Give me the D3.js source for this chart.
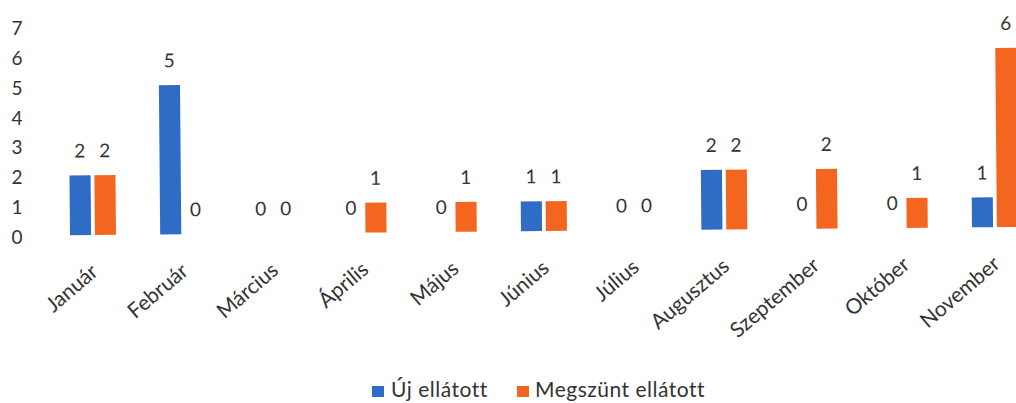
<!DOCTYPE html>
<html>
<head>
<meta charset="utf-8">
<script src="https://cdn.jsdelivr.net/npm/d3@7"></script>
<style>
  html, body { margin: 0; padding: 0; background: #fff; }
  svg { display: block; }
  text { font-family: Lato, "Open Sans", sans-serif; fill: #333; }
</style>
</head>
<body>
<svg id="chart" width="1016" height="403"></svg>
<script>
const months = ["Január","Február","Március","Április","Május","Június","Július","Augusztus","Szeptember","Október","November"];
const seriesNames = ["Új ellátott","Megszünt ellátott"];
const ujEllatott = [2,5,0,0,0,1,0,2,0,0,1];
const megszuntEllatott = [2,0,0,1,1,1,0,2,2,1,6];
const yTicks = [0,1,2,3,4,5,6,7];
const colors = ["#2f6cc6","#f4661f"];

const svg = d3.select("#chart");
const baseY = 235;
const y = d3.scaleLinear().domain([0,7]).range([baseY, baseY - 7*29.85]);
const x0 = d3.scaleBand().domain(months).range([47.9, 1040.1]).paddingInner(0.49).paddingOuter(0.245);
const x1 = d3.scaleBand().domain(seriesNames).range([0, x0.bandwidth()]).paddingInner(0.152);

const data = months.map((m,i)=>({month:m, values:[ujEllatott[i], megszuntEllatott[i]]}));

// y axis labels
svg.append("g").selectAll("text").data(yTicks).join("text")
  .attr("x", 17).attr("y", d => y(d) + 9)
  .attr("text-anchor","middle").style("font-size","19px")
  .text(d => d);

const plot = svg.append("g").attr("transform", `rotate(-0.5, 93, ${baseY})`);

const groups = plot.selectAll("g.grp").data(data).join("g")
  .attr("class","grp").attr("transform", d => `translate(${x0(d.month)},0)`);

groups.selectAll("rect").data(d => d.values.map((v,j)=>({v, s:seriesNames[j], j})))
  .join("rect")
  .attr("x", d => x1(d.s)).attr("width", x1.bandwidth())
  .attr("y", d => y(d.v)).attr("height", d => y(0) - y(d.v))
  .attr("fill", d => colors[d.j]);

groups.selectAll("text.val").data(d => d.values.map((v,j)=>({v, s:seriesNames[j], j})))
  .join("text").attr("class","val")
  .attr("x", d => x1(d.s) + x1.bandwidth()/2)
  .attr("y", d => y(d.v) - 18)
  .attr("text-anchor","middle").style("font-size","19px")
  .text(d => d.v);

// x labels
plot.append("g").selectAll("text").data(months).join("text")
  .attr("text-anchor","end")
  .attr("transform", d => `translate(${x0(d) + x0.bandwidth()/2 + 6}, 274) rotate(-40)`)
  .style("font-size","21px")
  .text(d => d);

// legend
const legend = svg.append("g");
const legItems = [{name:seriesNames[0], c:colors[0], sx:372, tx:391},{name:seriesNames[1], c:colors[1], sx:517, tx:535}];
legItems.forEach(it => {
  legend.append("rect").attr("x", it.sx).attr("y", 386).attr("width", 12).attr("height", 11).attr("fill", it.c);
  legend.append("text").attr("x", it.tx).attr("y", 397).style("font-size","21px")
    .style("letter-spacing","0.5px").text(it.name);
});
</script>
</body>
</html>
